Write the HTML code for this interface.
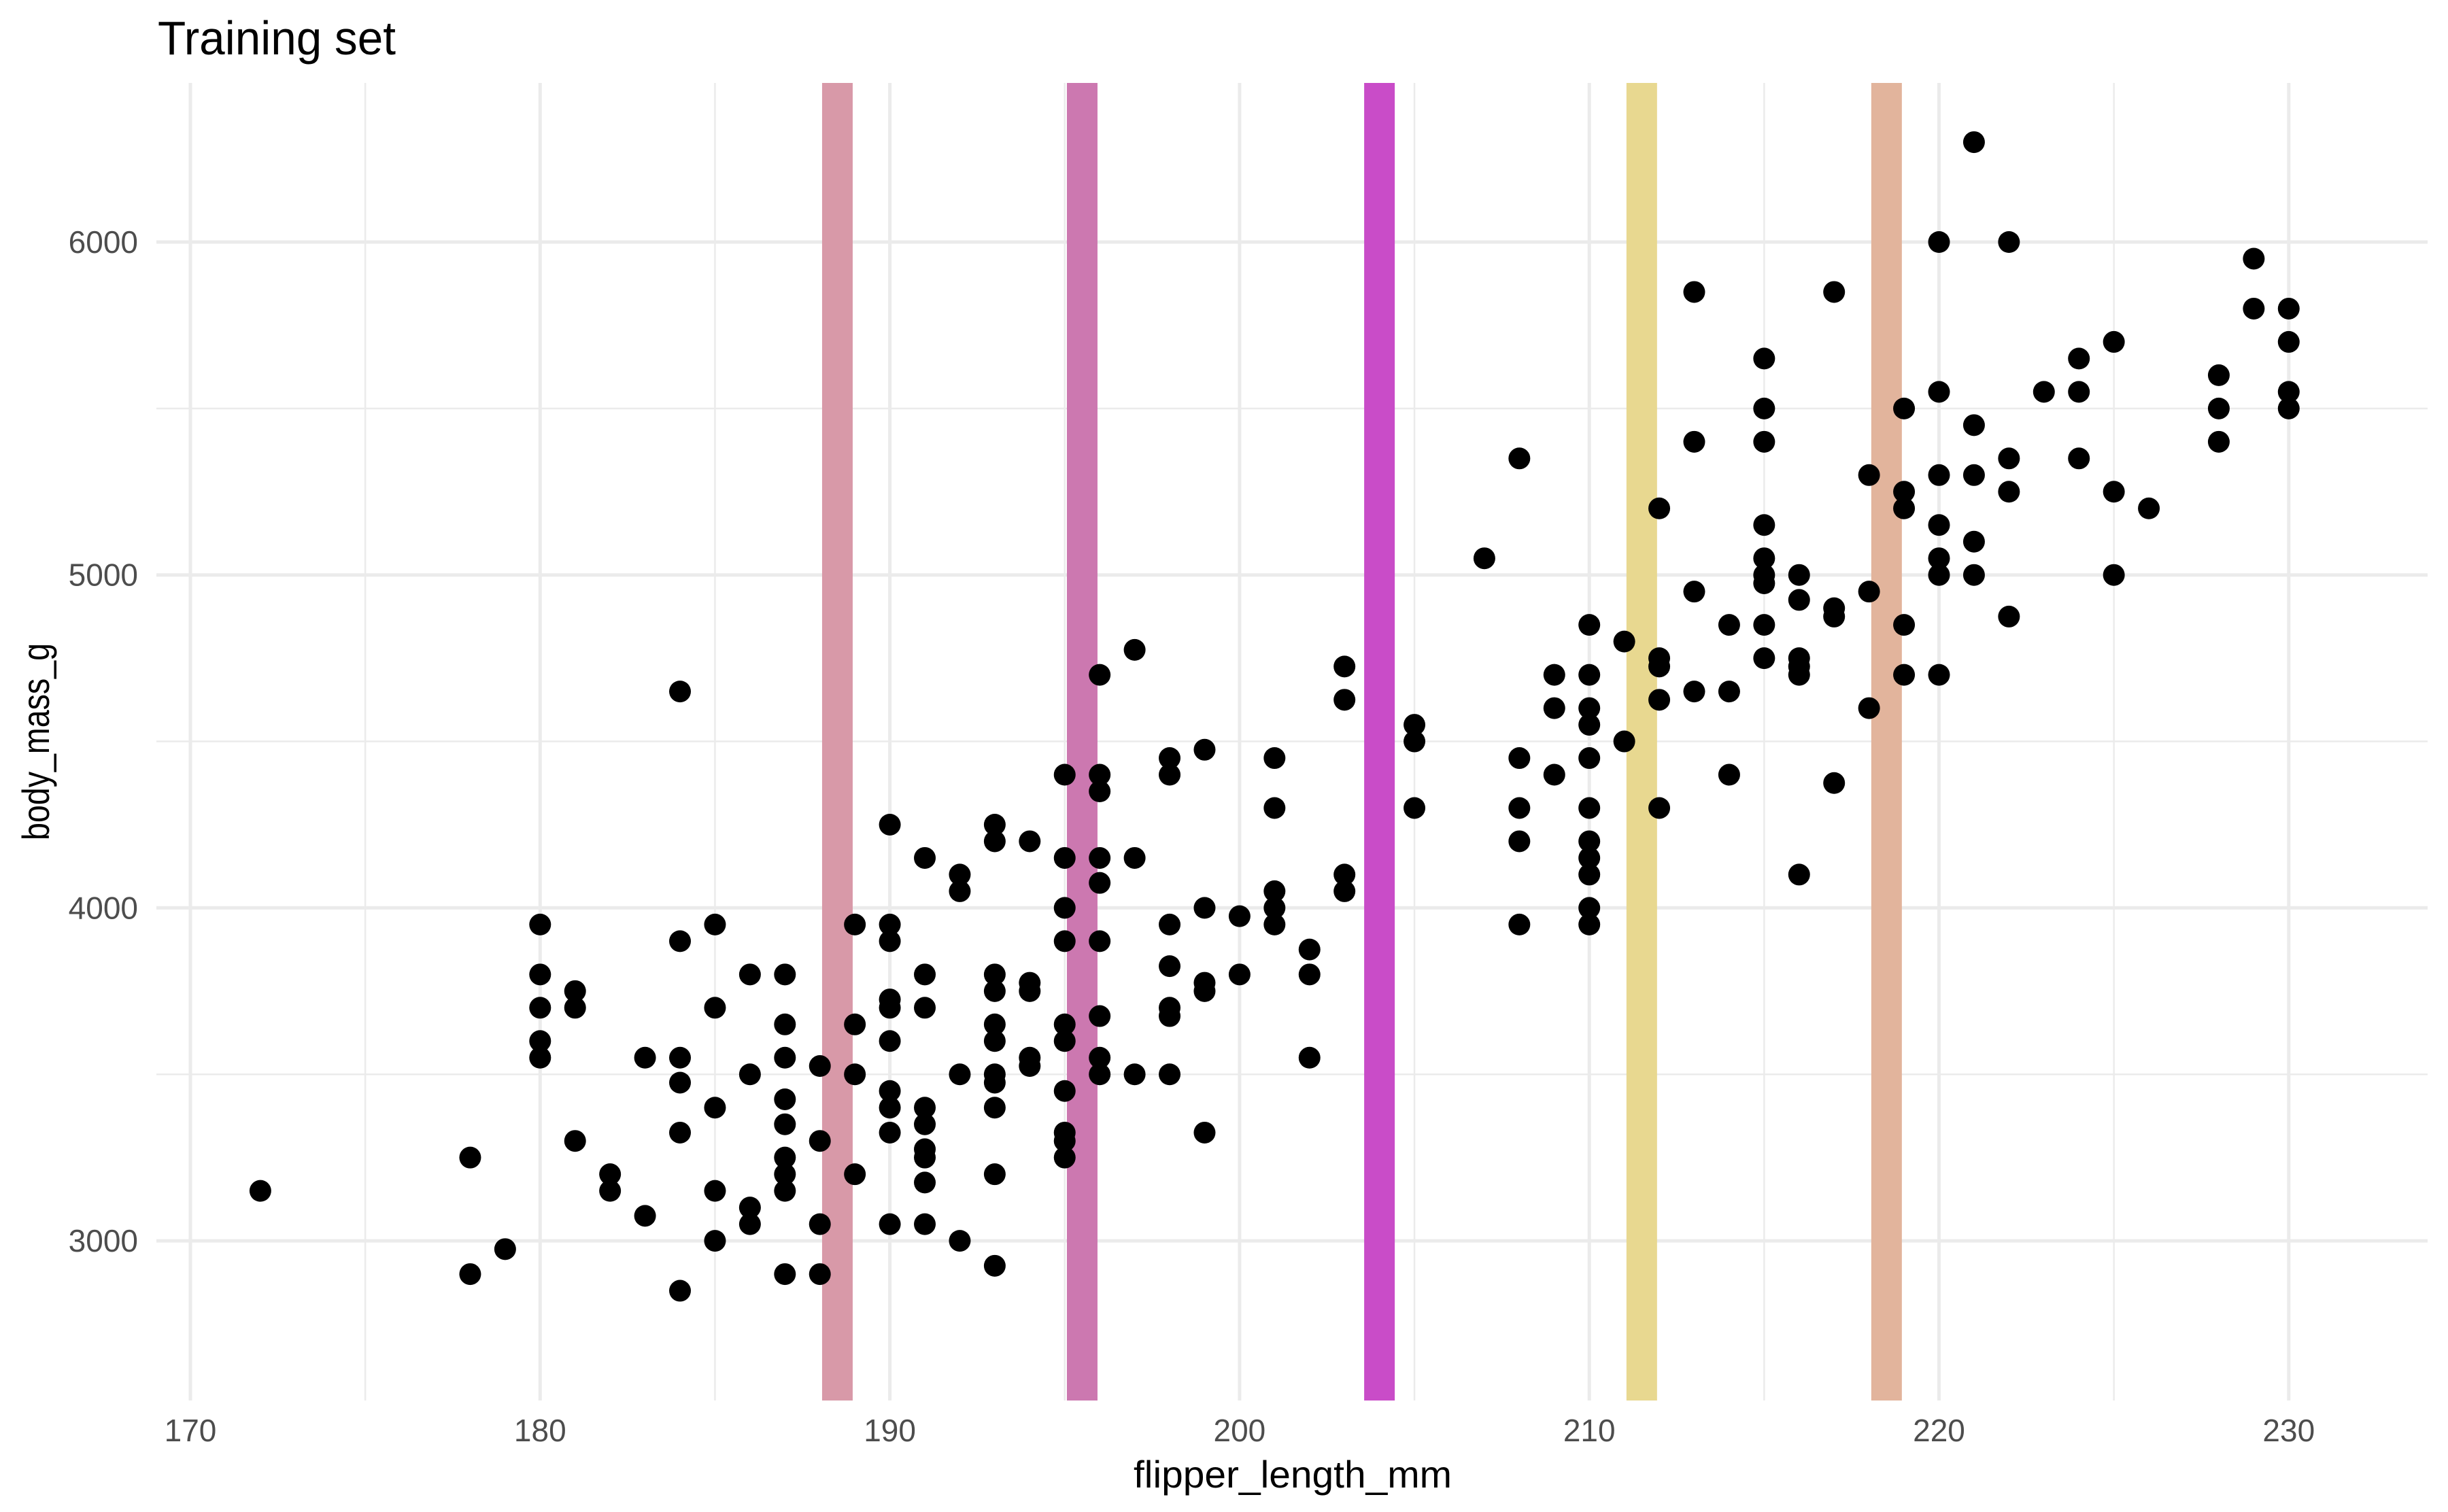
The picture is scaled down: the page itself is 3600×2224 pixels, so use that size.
<!DOCTYPE html>
<html><head><meta charset="utf-8"><style>html,body{margin:0;padding:0;background:#fff}svg{display:block}</style></head>
<body>
<svg id="s" xmlns="http://www.w3.org/2000/svg" width="3600" height="2224" viewBox="0 0 3600 2224">
<rect width="3600" height="2224" fill="#fff"/>
<g id="grid"></g><g id="bars"></g><g id="pts"></g><g id="lab" font-family="Liberation Sans, sans-serif"></g>
<text x="232" y="80" font-family="Liberation Sans, sans-serif" font-size="70" fill="#000" textLength="350" lengthAdjust="spacingAndGlyphs">Training set</text>
<text x="1901" y="2188" text-anchor="middle" font-family="Liberation Sans, sans-serif" font-size="56" fill="#000" textLength="468" lengthAdjust="spacingAndGlyphs">flipper_length_mm</text>
<text transform="translate(72,1091) rotate(-90)" text-anchor="middle" font-family="Liberation Sans, sans-serif" font-size="56" fill="#000" textLength="290" lengthAdjust="spacingAndGlyphs">body_mass_g</text>
</svg>
<script>
const NS="http://www.w3.org/2000/svg";
const X=f=>280+(f-170)*51.43, Y=m=>356+(6000-m)*0.4897;
const L=230,R=3570,T=122,B=2060;
function el(p,t,a){const e=document.createElementNS(NS,t);for(const k in a)e.setAttribute(k,a[k]);document.getElementById(p).appendChild(e);return e;}
for(let f=170;f<=230;f+=5){const maj=f%10==0;el("grid","line",{x1:X(f),x2:X(f),y1:T,y2:B,stroke:"#ebebeb","stroke-width":maj?5:2.5});}
for(let m=3000;m<=6000;m+=500){const maj=m%1000==0;el("grid","line",{x1:L,x2:R,y1:Y(m),y2:Y(m),stroke:"#ebebeb","stroke-width":maj?5:2.5});}
for(let f=170;f<=230;f+=10){const t=el("lab","text",{x:X(f),y:2120,"text-anchor":"middle","font-size":46,fill:"#4d4d4d"});t.textContent=f;}
for(let m=3000;m<=6000;m+=1000){const t=el("lab","text",{x:203,y:Y(m)+16,"text-anchor":"end","font-size":46,fill:"#4d4d4d"});t.textContent=m;}
const bars=[[188.5,"#d899a8"],[195.5,"#cc78b0"],[204,"#c94cc8"],[211.5,"#e8d890"],[218.5,"#e2b49c"]];
bars.forEach(b=>el("bars","rect",{x:X(b[0])-22.5,y:T,width:45,height:B-T,fill:b[1]}));
const d={172:[3150],178:[3250,2900],179:[2975],180:[3950,3800,3700,3600,3550],181:[3750,3700,3300],182:[3200,3150],183:[3550,3075],
184:[4650,3900,3550,3475,3325,2850],185:[3950,3700,3400,3150,3000],186:[3800,3500,3100,3050],187:[3800,3650,3550,3425,3350,3250,3200,3150,2900],
188:[3525,3300,3050,2900],189:[3950,3650,3500,3200],190:[4250,3950,3900,3725,3700,3600,3450,3400,3325,3050],
191:[4150,3800,3700,3400,3350,3275,3250,3175,3050],192:[4100,4050,3500,3000],193:[4250,4200,3800,3750,3650,3600,3500,3475,3400,3200,2925],
194:[4200,3775,3750,3550,3525],195:[4400,4150,4000,3900,3650,3600,3450,3325,3300,3250],196:[4700,4400,4350,4150,4075,3900,3675,3550,3500],
197:[4775,4150,3500],198:[4450,4400,3950,3825,3700,3675,3500],199:[4475,4000,3775,3750,3325],200:[3975,3800],201:[4450,4300,4050,4000,3950],
202:[3875,3800,3550],203:[4725,4625,4100,4050],205:[4550,4500,4300],207:[5050],208:[5350,4450,4300,4200,3950],209:[4700,4600,4400],
210:[4850,4700,4600,4550,4450,4300,4200,4150,4100,4000,3950],211:[4800,4500],212:[5200,4750,4725,4625,4300],213:[5850,5400,4950,4650],
214:[4850,4650,4400],215:[5650,5500,5400,5150,5050,5000,4975,4850,4750],216:[5000,4925,4750,4725,4700,4100],217:[5850,4900,4875,4375],
218:[5300,4950,4600],219:[5500,5250,5200,4850,4700],220:[6000,5550,5300,5150,5050,5000,4700],221:[6300,5450,5300,5100,5000],
222:[6000,5350,5250,4875],223:[5550],224:[5650,5550,5350],225:[5700,5250,5000],226:[5200],228:[5600,5500,5400],229:[5950,5800],230:[5800,5700,5550,5500]};
for(const f in d)d[f].forEach(m=>el("pts","circle",{cx:X(+f),cy:Y(m),r:16,fill:"#000"}));
</script>
</body></html>
